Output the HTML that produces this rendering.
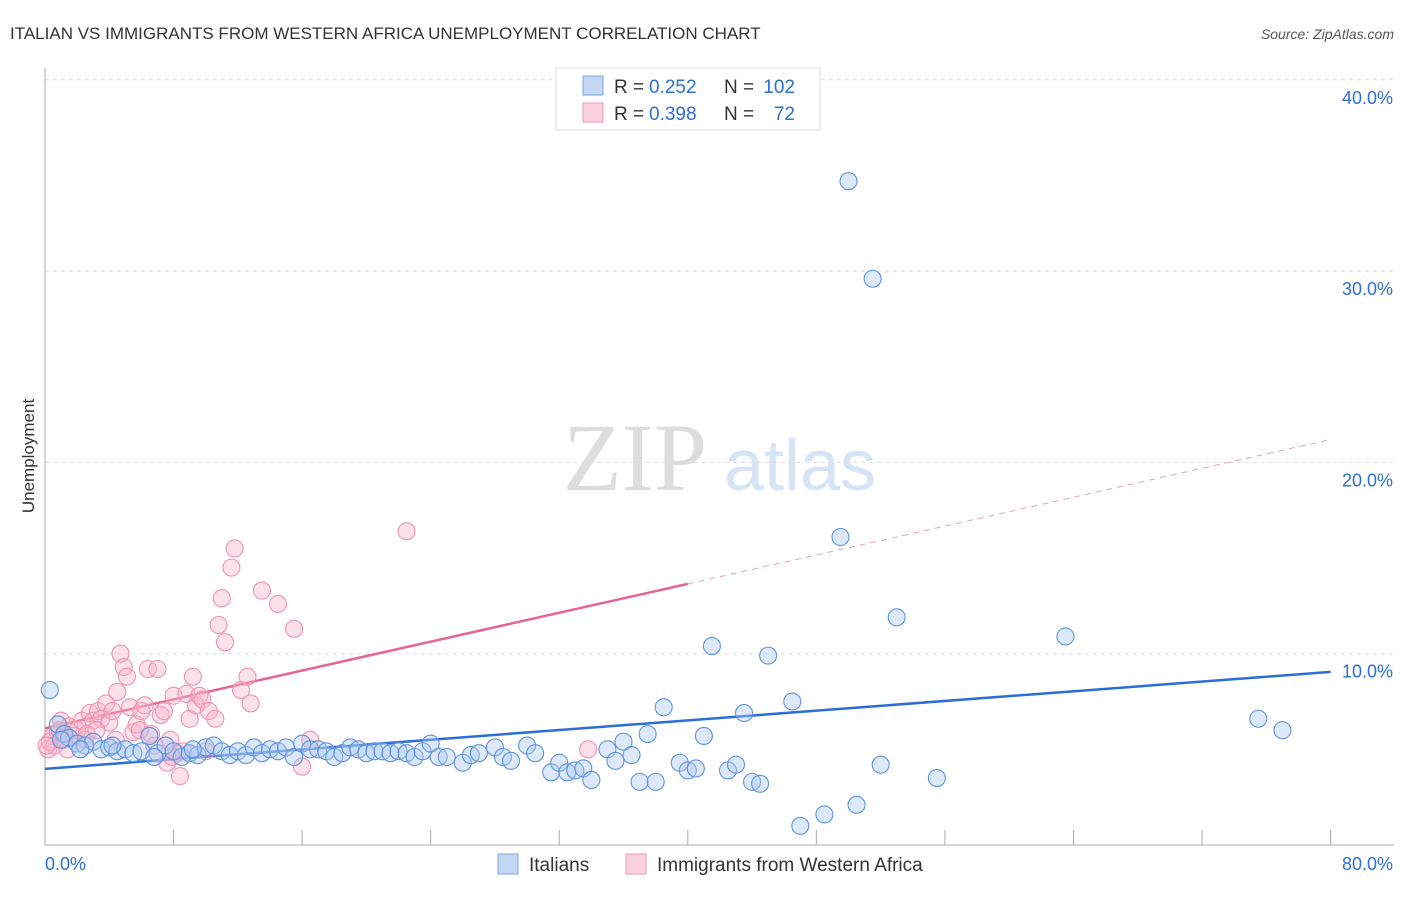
<!DOCTYPE html>
<html><head><meta charset="utf-8"><style>
body{margin:0;background:#fff;font-family:"Liberation Sans",sans-serif;}
</style></head><body>
<svg id="c" width="1406" height="892" xmlns="http://www.w3.org/2000/svg">
<text x="10" y="39" font-size="17" fill="#333">ITALIAN VS IMMIGRANTS FROM WESTERN AFRICA UNEMPLOYMENT CORRELATION CHART</text>
<text x="1394" y="39" font-size="14" fill="#555" text-anchor="end" font-style="italic">Source: ZipAtlas.com</text>
<text x="34" y="456" font-size="17" fill="#333" text-anchor="middle" transform="rotate(-90 34 456)">Unemployment</text>
<g><text x="635" y="490" font-size="96" fill="#ddd" font-family="Liberation Serif" text-anchor="middle">ZIP</text><text x="800" y="490" font-size="72" fill="#d6e4f5" text-anchor="middle">atlas</text></g>
<g id="grid"></g><g id="axes"></g><g id="lines"></g><g id="pts"></g>
<g>
<rect x="556" y="68" width="264" height="62" fill="#fff" stroke="#ddd"/>
<rect x="583" y="76" width="20" height="19" fill="#c4d8f5" stroke="#7aa6e0"/>
<rect x="583" y="103" width="20" height="19" fill="#fbd0dd" stroke="#ee9ab5"/>
<text x="614" y="93" font-size="19" fill="#333">R =</text><text x="649" y="93" font-size="19" fill="#2f6fd1">0.252</text>
<text x="724" y="93" font-size="19" fill="#333">N =</text><text x="795" y="93" font-size="19" fill="#2f6fd1" text-anchor="end">102</text>
<text x="614" y="120" font-size="19" fill="#333">R =</text><text x="649" y="120" font-size="19" fill="#2f6fd1">0.398</text>
<text x="724" y="120" font-size="19" fill="#333">N =</text><text x="795" y="120" font-size="19" fill="#2f6fd1" text-anchor="end">72</text>
</g>
<g>
<rect x="498" y="854" width="20" height="20" fill="#c4d8f5" stroke="#7aa6e0"/>
<text x="529" y="871" font-size="19" fill="#333">Italians</text>
<rect x="626" y="854" width="20" height="20" fill="#fbd0dd" stroke="#ee9ab5"/>
<text x="657" y="871" font-size="19" fill="#333">Immigrants from Western Africa</text>
</g>
</svg>
<script>
const xTicks=[0,8,16,24,32,40,48,56,64,72,80];
const yTicks=[10,20,30,40];
const blueX=[0.3,0.8,1.2,1.5,2,2.5,3,3.5,4,4.5,5,5.5,6,6.5,7,7.5,8,8.5,9,9.5,10,10.5,11,11.5,12,12.5,13,13.5,14,14.5,15,15.5,16,16.5,17,17.5,18,18.5,19,19.5,20,20.5,21,21.5,22,22.5,23,23.5,24,24.5,25,26,26.5,27,28,28.5,29,30,30.5,31.5,32,32.5,33,33.5,34,35,35.5,36,36.5,37,37.5,38,38.5,39.5,40,40.5,41,41.5,42.5,43,43.5,44,44.5,45,46.5,47,48.5,49.5,50,50.5,51.5,52,53,55.5,63.5,75.5,77,1,2.2,4.2,6.8,9.2];
const blueY=[8.1,6.3,5.8,5.6,5.3,5.2,5.4,5.0,5.1,4.9,5.0,4.8,4.9,5.7,4.8,5.2,4.9,4.6,4.8,4.7,5.1,5.2,4.9,4.7,4.9,4.7,5.1,4.8,5.0,4.9,5.1,4.6,5.3,5.0,5.0,4.9,4.6,4.8,5.1,5.0,4.8,4.9,4.9,4.8,4.9,4.8,4.6,4.9,5.3,4.6,4.6,4.3,4.7,4.8,5.1,4.6,4.4,5.2,4.8,3.8,4.3,3.8,3.9,4.0,3.4,5.0,4.4,5.4,4.7,3.3,5.8,3.3,7.2,4.3,3.9,4.0,5.7,10.4,3.9,4.2,6.9,3.3,3.2,9.9,7.5,1.0,1.6,16.1,34.7,2.1,29.6,4.2,11.9,3.5,10.9,6.6,6.0,5.5,5.0,5.2,4.6,5.0];
const pinkX=[0.2,0.3,0.5,0.6,0.8,1,1.2,1.5,1.8,2,2.3,2.5,2.8,3,3.3,3.5,3.8,4,4.2,4.5,4.7,4.9,5.1,5.3,5.5,5.7,6,6.2,6.4,6.6,6.8,7,7.2,7.4,7.6,7.8,8,8.2,8.4,8.6,8.8,9,9.2,9.4,9.6,9.8,10,10.2,10.6,10.8,11,11.2,11.6,11.8,12.2,12.6,12.8,13.5,14.5,15.5,16,16.5,22.5,33.8,1.4,2.6,3.2,0.9,4.4,5.9,7.9,0.1];
const pinkY=[5.0,5.4,5.7,5.2,5.9,6.5,5.5,6.2,5.7,6.0,6.5,5.5,6.9,6.5,7.0,6.6,7.4,6.4,7.0,8.0,10.0,9.3,8.8,7.2,5.9,6.3,7.0,7.3,9.2,5.8,5.2,9.2,6.8,7.0,4.3,5.5,7.8,4.8,3.6,4.9,7.9,6.6,8.8,7.3,7.8,7.6,4.9,7.0,6.6,11.5,12.9,10.6,14.5,15.5,8.1,8.8,7.4,13.3,12.6,11.3,4.1,5.5,16.4,5.0,5.0,5.8,6.0,6.0,5.5,6.0,4.6,5.2];
const blueFit=[3.98,9.05];
const pinkFit=[6.1,21.2];
const X=v=>45+v*16.07, Y=v=>845-v*19.13;
const NS="http://www.w3.org/2000/svg";
function mk(p,t,a){const e=document.createElementNS(NS,t);for(const k in a)e.setAttribute(k,a[k]);document.getElementById(p).appendChild(e);return e;}
yTicks.forEach(v=>{const l=mk('grid','line',{x1:45,x2:1394,y1:Y(v),y2:Y(v),stroke:'#ddd','stroke-dasharray':'4,4'});


const t=mk('grid','text',{x:1393,y:Y(v)+24,'font-size':18,fill:'#2f6fd1','text-anchor':'end'});t.textContent=v.toFixed(1)+'%';

});
mk('axes','line',{x1:45,x2:45,y1:68,y2:845,stroke:'#aaa'});
mk('axes','line',{x1:45,x2:1394,y1:845,y2:845,stroke:'#aaa'});
xTicks.forEach(v=>{const l=mk('axes','line',{x1:X(v),x2:X(v),y1:830,y2:845,stroke:'#aaa'});

});
[[0,'0.0%','start',45],[80,'80.0%','end',1393]].forEach(a=>{const t=mk('axes','text',{x:a[3],y:870,'font-size':18,fill:'#2f6fd1','text-anchor':a[2]});t.textContent=a[1];

});
const bl=mk('lines','line',{x1:X(0),y1:Y(blueFit[0]),x2:X(80),y2:Y(blueFit[1]),stroke:'#2a6fd6','stroke-width':2.5});


const py=v=>pinkFit[0]+(pinkFit[1]-pinkFit[0])*v/80;
const pl=mk('lines','line',{x1:X(0),y1:Y(py(0)),x2:X(40),y2:Y(py(40)),stroke:'#e8648e','stroke-width':2.5});


const pd=mk('lines','line',{x1:X(40),y1:Y(py(40)),x2:X(80),y2:Y(py(80)),stroke:'#e8a0b8','stroke-width':1,'stroke-dasharray':'6,5'});


pinkX.forEach((x,i)=>{const c=mk('pts','circle',{cx:X(x),cy:Y(pinkY[i]),r:8.5,fill:'rgba(248,180,202,0.4)',stroke:'#ee93b0','stroke-width':1.1});

});
blueX.forEach((x,i)=>{const c=mk('pts','circle',{cx:X(x),cy:Y(blueY[i]),r:8.5,fill:'rgba(170,200,240,0.4)',stroke:'#5f94de','stroke-width':1.1});

});
</script>
</body></html>
